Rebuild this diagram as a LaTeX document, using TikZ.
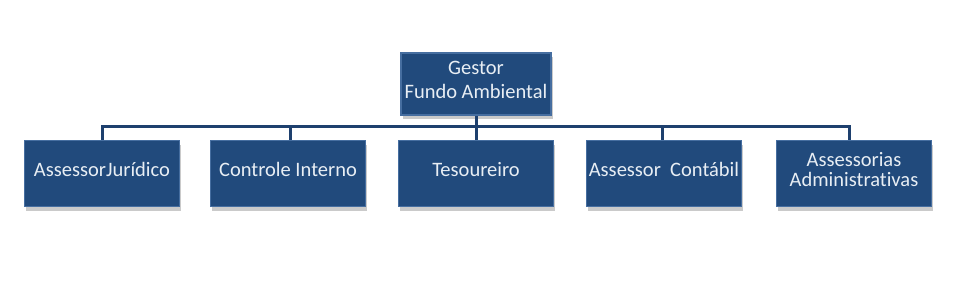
\documentclass[tikz,border=0pt]{standalone}
\usepackage{fontspec}
\setmainfont{Carlito}[Ligatures=NoCommon]
\usetikzlibrary{shadows,calc}
\definecolor{boxblue}{RGB}{33,74,124}
\definecolor{boxedge}{RGB}{70,110,160}
\definecolor{linkblue}{RGB}{30,64,110}
\definecolor{txt}{RGB}{232,238,244}
\begin{document}
\begin{tikzpicture}[x=1pt,y=-1pt,
  orgbox/.style={draw=boxedge, line width=1.2pt, fill=boxblue,
    minimum width=155pt, minimum height=66pt, inner sep=1pt,
    text=txt, align=center, font=\fontsize{20.5}{23.5}\selectfont,
    drop shadow={shadow xshift=1.5pt, shadow yshift=-4pt, opacity=0.35, fill=black!60}},
  oneline/.style={text height=14pt, text depth=8pt},
  twoline/.style={text depth=8pt},
  link/.style={draw=linkblue, line width=3pt}]
\useasboundingbox (0,0) rectangle (954,287);
\node[orgbox, twoline, minimum width=150pt, minimum height=62pt] (top) at (476,84) {Gestor\\Fundo Ambiental};
\node[orgbox, oneline] (c1) at (102,173.5) {AssessorJurídico};
\node[orgbox, oneline] (c2) at (288,173.5) {Controle Interno};
\node[orgbox, oneline] (c3) at (476,173.5) {Tesoureiro};
\node[orgbox, oneline] (c4) at (664,173.5) {Assessor\ \ Contábil};
\node[orgbox, twoline, font=\fontsize{20.5}{20.5}\selectfont] (c5) at (854,173.5) {Assessorias\\Administrativas};
\coordinate (bus) at (476,126);
\draw[link] (top.south) -- (bus);
\draw[link] (bus) -| ([xshift=0pt]c1.north);
\draw[link] (bus) -| ([xshift=2pt]c2.north);
\draw[link] (bus) -- (c3.north);
\draw[link] (bus) -| ([xshift=-2pt]c4.north);
\draw[link] (bus) -| ([xshift=-5pt]c5.north);
\end{tikzpicture}
\end{document}
